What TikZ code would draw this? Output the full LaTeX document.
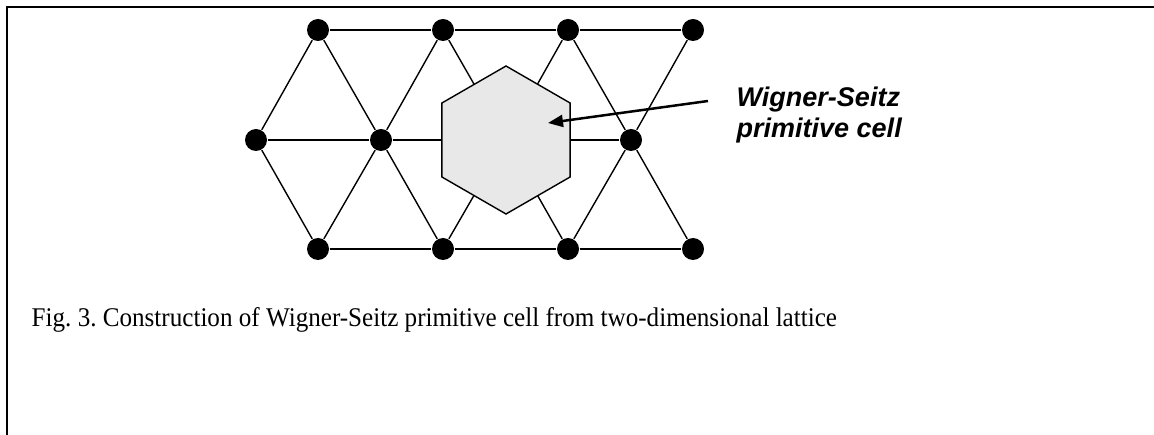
\documentclass[tikz,border=0pt]{standalone}
\usepackage{fontspec}
\setmainfont{Liberation Serif}
\setsansfont{Liberation Sans}
\usetikzlibrary{arrows.meta, shapes.geometric, calc}
\definecolor{cellgrey}{HTML}{E8E8E8}
\frenchspacing
\tikzset{
  every picture/.style={line width=1.4pt},
  site/.style={circle, fill=black, inner sep=0pt, minimum size=22pt},
  bond/.style={draw=black, line width=1.4pt},
  wscell/.style={regular polygon, regular polygon sides=6, shape border rotate=30, draw=black, fill=cellgrey, inner sep=0pt, minimum size=148pt},
  pointer/.style={-{Triangle[length=15pt, width=12pt]}, line width=2.5pt},
  frame/.style={line width=2.5pt},
  label/.style={font=\sffamily\bfseries\itshape\fontsize{27}{31}\selectfont, align=left, inner sep=0pt},
  caption/.style={font=\fontsize{27}{32}\selectfont, inner sep=0pt},
}

\begin{document}
\begin{tikzpicture}[x=1pt, y=-1pt]
  \useasboundingbox (0,0) rectangle (1154,435);
  % frame of the figure cell
  \draw[frame] (7,435) -- (7,7) -- (1154,7);
  % lattice sites: top, bottom and middle rows
  \foreach \i in {0,...,3}
    { \node[site] (t\i) at (318+125*\i, 30) {};
      \node[site] (b\i) at (318+125*\i, 249) {}; }
  \foreach \i in {0,1,3}
    \node[site] (m\i) at (256+125*\i, 140) {};
  \coordinate (m2) at (506,140);
  % bonds
  \draw[bond] (t0) -- (t1) -- (t2) -- (t3);
  \draw[bond] (b0) -- (b1) -- (b2) -- (b3);
  \draw[bond] (m0) -- (m1) -- (m2) -- (m3);
  \foreach \i/\j in {0/0, 1/0, 1/1, 2/1, 2/2, 3/2, 3/3}
    { \draw[bond] (m\i) -- (t\j);
      \draw[bond] (m\i) -- (b\j); }
  % Wigner-Seitz cell on top
  \node[wscell] (ws) at (m2) {};
  \coordinate (tip) at ($(ws.center)+(42,-17)$);
  \node[label, anchor=north west] (lbl) at (736,86) {Wigner-Seitz\\primitive cell};
  \draw[pointer] ([xshift=-28pt, yshift=-15pt]lbl.north west) -- (tip);
  % caption
  \node[caption, anchor=base west] (cap) at (31,327)
    {\scalebox{0.93}[1]{Fig. 3. Construction of Wigner-Seitz primitive cell from two-dimensional lattice}};
\end{tikzpicture}
\end{document}
